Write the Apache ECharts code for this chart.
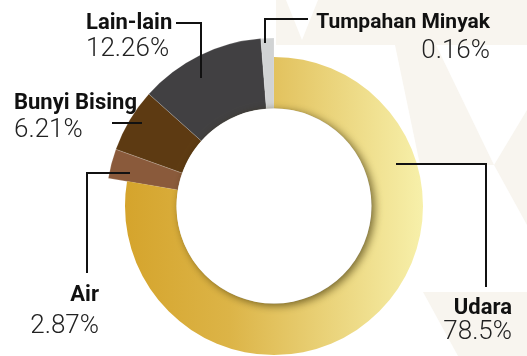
<!DOCTYPE html>
<html>
<head>
<meta charset="utf-8">
<script src="https://cdn.jsdelivr.net/npm/echarts@6/dist/echarts.min.js"></script>
<style>
  html, body { margin: 0; padding: 0; background: #ffffff; }
  #chart { width: 527px; height: 356px; }
</style>
</head>
<body>
<div id="chart"></div>
<script>
// Sources of pollution complaints (share, %)
const categories = ['Udara', 'Air', 'Bunyi Bising', 'Lain-lain', 'Tumpahan Minyak'];
const shares = [78.5, 2.87, 6.21, 12.26, 0.16];
const percentLabels = ['78.5%', '2.87%', '6.21%', '12.26%', '0.16%'];

const sliceColors = [
  null, // Udara uses a gradient
  '#8a5a3b',
  '#5d3a12',
  '#414042',
  '#d1d3d4'
];

const udaraGradient = new echarts.graphic.LinearGradient(0, 0, 1, 0, [
  { offset: 0, color: '#d5a42c' },
  { offset: 0.35, color: '#dcb447' },
  { offset: 1, color: '#f7f0aa' }
]);

// label placement, text styles and leader line for each slice
const labelPlacement = [
  { x: 512, y: 295, align: 'right', name: 'n', gap: 'pu', line: [[396, 164], [486, 164], [486, 287]] },
  { x: 99, y: 282, align: 'right', name: 'n', gap: 'p5', line: [[130, 173], [87, 173], [87, 273]] },
  { x: 14, y: 90, align: 'left', name: 'n', gap: 'p1', line: [[142, 123], [127, 123], [112, 123]] },
  { x: 86, y: 10, align: 'left', name: 'n', gap: 'p0', line: [[201, 78], [201, 23], [176, 23]] },
  { x: 490, y: 10, align: 'right', name: 'ns', gap: 'p2', line: [[265, 43], [265, 19], [308, 19]] }
];

const center = [274, 206];
const innerR = 97.5;

function sliceData(visible) {
  return categories.map((name, i) => ({
    name: name,
    value: shares[i],
    itemStyle: visible(i)
      ? { color: i === 0 ? udaraGradient : sliceColors[i] }
      : { color: 'rgba(0,0,0,0)', borderWidth: 0 }
  }));
}

const nameFont = 'Roboto, "Liberation Sans", sans-serif';
const pctFont = 'Roboto, "Liberation Sans", sans-serif';
const nameStyle = (fs) => ({ fontFamily: nameFont, fontWeight: 'bold', fontSize: fs, lineHeight: 26, color: '#111111' });
const pctStyle = (lh) => ({ fontFamily: pctFont, fontWeight: 300, fontSize: 26, lineHeight: lh, color: '#222222' });

const chart = echarts.init(document.getElementById('chart'), null, { renderer: 'canvas' });

const bg = '#f8f5ef';

chart.setOption({
  animation: false,
  backgroundColor: '#ffffff',
  graphic: [
    { type: 'polygon', z: 0, silent: true, shape: { points: [[276, 0], [527, 0], [527, 45], [276, 45]] }, style: { fill: bg } },
    { type: 'polygon', z: 0, silent: true, shape: { points: [[286, 0], [318, 0], [302, 40]] }, style: { fill: '#ffffff' } },
    { type: 'polygon', z: 0, silent: true, shape: { points: [[395, 45], [436, 45], [494, 165], [420, 165]] }, style: { fill: bg } },
    { type: 'polygon', z: 0, silent: true, shape: { points: [[527, 110], [494, 165], [527, 225]] }, style: { fill: bg } },
    { type: 'polygon', z: 0, silent: true, shape: { points: [[423, 292], [527, 292], [527, 356], [458, 356]] }, style: { fill: bg } },
    {
      type: 'circle', z: 100, silent: true,
      shape: { cx: center[0], cy: center[1], r: innerR },
      style: {
        fill: '#ffffff',
        shadowBlur: 8,
        shadowColor: 'rgba(50,40,0,0.65)',
        shadowOffsetX: 3,
        shadowOffsetY: 2
      }
    }
  ],
  series: [
    {
      // thicker ring for the smaller categories
      type: 'pie', silent: true, z: 2,
      center: center, radius: [innerR, 168],
      startAngle: 90, minAngle: 4.5, avoidLabelOverlap: false,
      itemStyle: { borderColor: 'rgba(255,255,255,0.35)', borderWidth: 0.5 },
      label: { show: false }, labelLine: { show: false },
      data: sliceData(i => i !== 0)
    },
    {
      // Udara ring
      type: 'pie', silent: true, z: 2,
      center: center, radius: [innerR, 149],
      startAngle: 90, minAngle: 4.5, avoidLabelOverlap: false,
      label: { show: false }, labelLine: { show: false },
      data: sliceData(i => i === 0)
    },
    {
      // labels and leader lines on top of the rings
      type: 'pie', silent: true, z: 5,
      center: center, radius: [innerR, 168],
      startAngle: 90, minAngle: 4.5, avoidLabelOverlap: false,
      data: sliceData(() => false),
      label: {
        show: true,
        formatter: (p) => {
          const c = labelPlacement[p.dataIndex];
          return '{' + c.name + '|' + p.name + '}\n{' + c.gap + '|' + percentLabels[p.dataIndex] + '}';
        },
        rich: {
          n: nameStyle(22),
          ns: nameStyle(21),
          pu: pctStyle(22),
          p0: pctStyle(26),
          p1: pctStyle(28),
          p2: pctStyle(30),
          p5: pctStyle(36)
        }
      },
      labelLine: { show: true, lineStyle: { color: '#111111', width: 2 } },
      labelLayout: function (params) {
        const c = labelPlacement[params.dataIndex];
        return {
          x: c.x, y: c.y, align: c.align, verticalAlign: 'top',
          labelLinePoints: c.line
        };
      }
    }
  ]
});
</script>
</body>
</html>
